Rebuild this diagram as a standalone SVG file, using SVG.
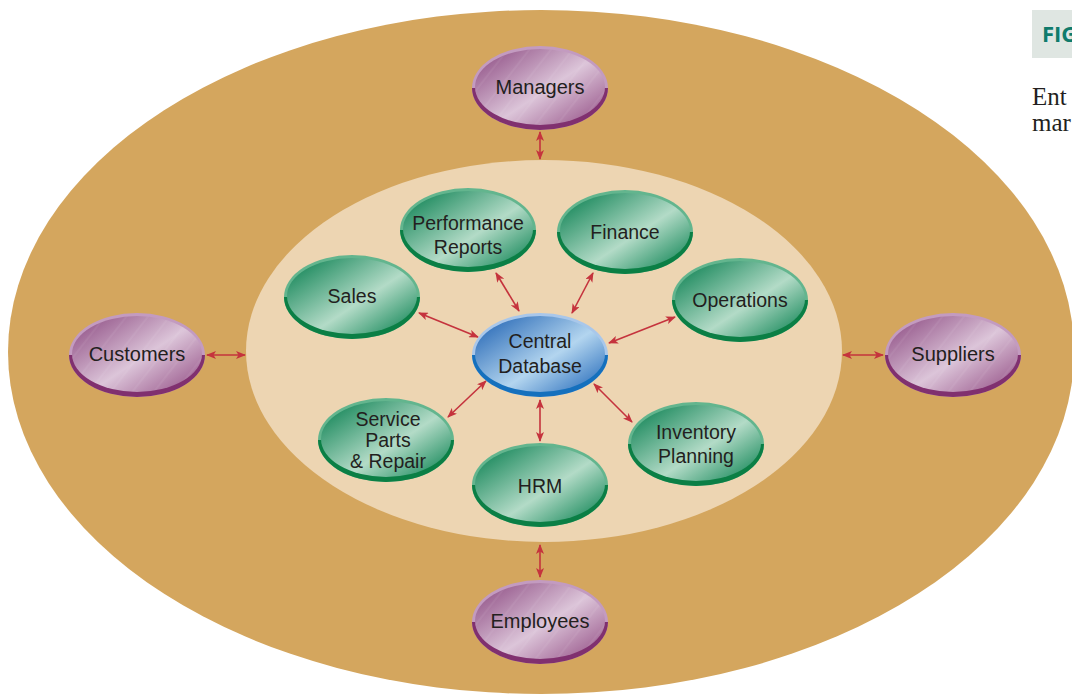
<svg xmlns="http://www.w3.org/2000/svg" width="1072" height="694" viewBox="0 0 1072 694">
<style>
.lbl{font-family:"Liberation Sans",Arial,sans-serif;font-size:19.5px;fill:#231f20;text-anchor:middle}
.lo{font-size:20px}
.arr{stroke:#c5333d;stroke-width:1.6;fill:none;marker-start:url(#ah);marker-end:url(#ah)}
.pr-rim{fill:#c39bc0}.pr-dk{fill:#80306f}.pr-face{fill:url(#gP)}
.gr-rim{fill:#63b58e}.gr-dk{fill:#0b7f45}.gr-face{fill:url(#gG)}
.bl-rim{fill:#a9c7ea}.bl-dk{fill:#1570bd}.bl-face{fill:url(#gB)}
.st{fill:url(#streaks)}
.cap{font-family:"Liberation Serif",serif;font-size:25px;fill:#231f20}
</style>
<defs>
<marker id="ah" viewBox="0 0 10 8" refX="9" refY="4" markerWidth="10" markerHeight="8" markerUnits="userSpaceOnUse" orient="auto-start-reverse">
<path d="M0,0 L10,4 L0,8 L2.5,4 Z" fill="#c5333d"/>
</marker>
<linearGradient id="gP" x1="0.05" y1="0.1" x2="0.95" y2="0.9">
<stop offset="0" stop-color="#94568a"/><stop offset="0.55" stop-color="#dcc5d9"/><stop offset="1" stop-color="#9d5e90"/>
</linearGradient>
<linearGradient id="gG" x1="0.05" y1="0.1" x2="0.95" y2="0.9">
<stop offset="0" stop-color="#17875a"/><stop offset="0.58" stop-color="#b3dbc7"/><stop offset="1" stop-color="#1f8d60"/>
</linearGradient>
<linearGradient id="gB" x1="0.05" y1="0.1" x2="0.95" y2="0.9">
<stop offset="0" stop-color="#2c6cb8"/><stop offset="0.58" stop-color="#b3d5ef"/><stop offset="1" stop-color="#3476c0"/>
</linearGradient>
<pattern id="streaks" width="17" height="17" patternUnits="userSpaceOnUse" patternTransform="rotate(-52)">
<line x1="0" y1="2" x2="17" y2="2" stroke="#ffffff" stroke-opacity="0.22" stroke-width="0.5"/>
</pattern>
</defs>

<g id="background">
<ellipse cx="541" cy="352" rx="533" ry="342" fill="#d4a65e"/>
<ellipse cx="544" cy="351" rx="298" ry="191" fill="#edd5b2"/>
</g>

<g id="caption">
<rect x="1032" y="10" width="40" height="48" fill="#dfe6e2"/>
<text x="1042" y="42" font-family="'Open Sans','Noto Sans',sans-serif" font-weight="bold" font-size="22" fill="#0f7b6c">FIG</text>
<text class="cap" x="1032" y="105">Ent</text>
<text class="cap" x="1032" y="131">mar</text>
</g>

<g id="connectors">
<line class="arr" x1="540" y1="132" x2="540" y2="159"/>
<line class="arr" x1="207" y1="355" x2="245" y2="355"/>
<line class="arr" x1="843" y1="355" x2="883" y2="355"/>
<line class="arr" x1="540" y1="545" x2="540" y2="577"/>
<line class="arr" x1="419" y1="313" x2="478" y2="337"/>
<line class="arr" x1="496" y1="273" x2="519" y2="311"/>
<line class="arr" x1="593" y1="273" x2="572" y2="313"/>
<line class="arr" x1="675" y1="317" x2="609" y2="343"/>
<line class="arr" x1="632" y1="422" x2="594" y2="384"/>
<line class="arr" x1="540" y1="441" x2="540" y2="400"/>
<line class="arr" x1="448" y1="417" x2="486" y2="381"/>
</g>

<g id="managers" transform="translate(540,88)">
<ellipse class="pr-rim" rx="68" ry="42"/><path class="pr-dk" d="M-68,0 A68,42 0 0 0 68,0 Z"/>
<ellipse class="pr-face" cy="-1" rx="65" ry="38"/><ellipse class="st" cy="-1" rx="65" ry="38"/>
<text class="lbl lo" y="6">Managers</text>
</g>
<g id="customers" transform="translate(137,355)">
<ellipse class="pr-rim" rx="68" ry="42"/><path class="pr-dk" d="M-68,0 A68,42 0 0 0 68,0 Z"/>
<ellipse class="pr-face" cy="-1" rx="65" ry="38"/><ellipse class="st" cy="-1" rx="65" ry="38"/>
<text class="lbl lo" y="6">Customers</text>
</g>
<g id="suppliers" transform="translate(953,355)">
<ellipse class="pr-rim" rx="68" ry="42"/><path class="pr-dk" d="M-68,0 A68,42 0 0 0 68,0 Z"/>
<ellipse class="pr-face" cy="-1" rx="65" ry="38"/><ellipse class="st" cy="-1" rx="65" ry="38"/>
<text class="lbl lo" y="6">Suppliers</text>
</g>
<g id="employees" transform="translate(540,622)">
<ellipse class="pr-rim" rx="68" ry="42"/><path class="pr-dk" d="M-68,0 A68,42 0 0 0 68,0 Z"/>
<ellipse class="pr-face" cy="-1" rx="65" ry="38"/><ellipse class="st" cy="-1" rx="65" ry="38"/>
<text class="lbl lo" y="6">Employees</text>
</g>

<g id="performance-reports" transform="translate(468,230)">
<ellipse class="gr-rim" rx="68" ry="42"/><path class="gr-dk" d="M-68,0 A68,42 0 0 0 68,0 Z"/>
<ellipse class="gr-face" cy="-1" rx="65" ry="38"/>
<text class="lbl" y="0">Performance</text><text class="lbl" y="24">Reports</text>
</g>
<g id="finance" transform="translate(625,232)">
<ellipse class="gr-rim" rx="68" ry="42"/><path class="gr-dk" d="M-68,0 A68,42 0 0 0 68,0 Z"/>
<ellipse class="gr-face" cy="-1" rx="65" ry="38"/>
<text class="lbl" y="7">Finance</text>
</g>
<g id="sales" transform="translate(352,297)">
<ellipse class="gr-rim" rx="68" ry="42"/><path class="gr-dk" d="M-68,0 A68,42 0 0 0 68,0 Z"/>
<ellipse class="gr-face" cy="-1" rx="65" ry="38"/>
<text class="lbl" y="6">Sales</text>
</g>
<g id="operations" transform="translate(740,300)">
<ellipse class="gr-rim" rx="68" ry="42"/><path class="gr-dk" d="M-68,0 A68,42 0 0 0 68,0 Z"/>
<ellipse class="gr-face" cy="-1" rx="65" ry="38"/>
<text class="lbl" y="7">Operations</text>
</g>
<g id="central-database" transform="translate(540,355)">
<ellipse class="bl-rim" rx="68" ry="42"/><path class="bl-dk" d="M-68,0 A68,42 0 0 0 68,0 Z"/>
<ellipse class="bl-face" cy="-1" rx="65" ry="38"/>
<text class="lbl" y="-7">Central</text><text class="lbl" y="18">Database</text>
</g>
<g id="service-parts-repair" transform="translate(386,440)">
<ellipse class="gr-rim" rx="68" ry="42"/><path class="gr-dk" d="M-68,0 A68,42 0 0 0 68,0 Z"/>
<ellipse class="gr-face" cy="-1" rx="65" ry="38"/>
<text class="lbl" x="2" y="-14">Service</text><text class="lbl" x="2" y="7">Parts</text><text class="lbl" x="2" y="28">&amp; Repair</text>
</g>
<g id="hrm" transform="translate(540,485)">
<ellipse class="gr-rim" rx="68" ry="42"/><path class="gr-dk" d="M-68,0 A68,42 0 0 0 68,0 Z"/>
<ellipse class="gr-face" cy="-1" rx="65" ry="38"/>
<text class="lbl" y="8">HRM</text>
</g>
<g id="inventory-planning" transform="translate(696,444)">
<ellipse class="gr-rim" rx="68" ry="42"/><path class="gr-dk" d="M-68,0 A68,42 0 0 0 68,0 Z"/>
<ellipse class="gr-face" cy="-1" rx="65" ry="38"/>
<text class="lbl" y="-5">Inventory</text><text class="lbl" y="19">Planning</text>
</g>
</svg>
